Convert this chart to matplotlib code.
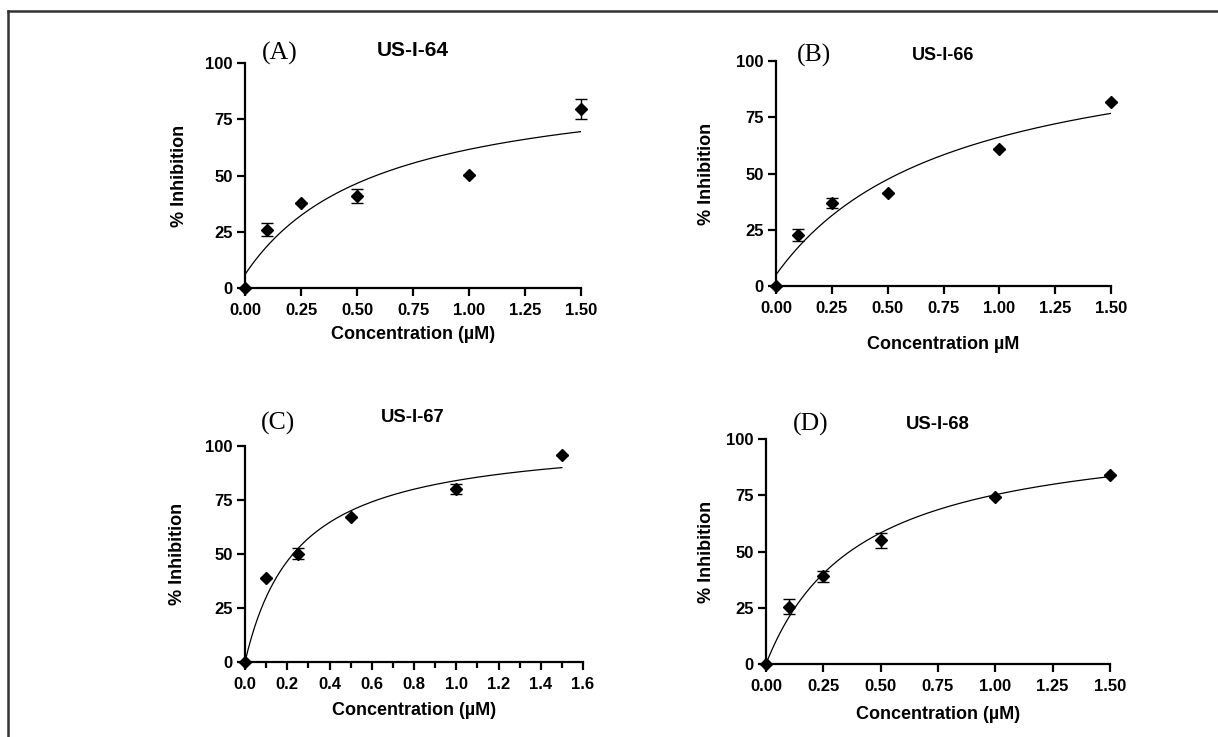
import matplotlib
matplotlib.use('Agg')
import matplotlib.pyplot as plt
from matplotlib.lines import Line2D
from matplotlib.ticker import MultipleLocator
import numpy as np

plt.rcParams['font.family'] = 'Liberation Sans'
plt.rcParams['font.weight'] = 'bold'

# -- datos ----------------------------------------------------------------
conc = [0, 0.1, 0.25, 0.5, 1.0, 1.5]

inh_64 = [0, 26.0, 37.7, 41.0, 50.4, 79.6]
err_64 = [0, 3.1, 0, 3.0, 0, 4.4]
inh_66 = [0, 22.8, 36.7, 41.3, 61.0, 81.6]
err_66 = [0, 2.6, 2.2, 0, 0, 0]
inh_67 = [0, 39.0, 50.2, 67.1, 80.1, 96.0]
err_67 = [0, 0, 2.7, 0, 2.3, 0]
inh_68 = [0, 25.4, 38.9, 54.9, 74.1, 84.0]
err_68 = [0, 3.3, 2.6, 3.5, 0, 0]

# parametros del ajuste hiperbolico: fondo, maximo, K
fit_64 = (6.0, 88.7, 0.595)
fit_66 = (5.0, 109.6, 0.792)
fit_67 = (0.0, 105.0, 0.25)
fit_68 = (0.0, 106.0, 0.409)

titles = ['US-I-64', 'US-I-66', 'US-I-67', 'US-I-68']
letters = ['(A)', '(B)', '(C)', '(D)']
xlabels = ['Concentration (µM)', 'Concentration µM',
           'Concentration (µM)', 'Concentration (µM)']

W, H = 1218, 737
fig = plt.figure(figsize=(W / 100, H / 100), dpi=100)

# borde de la figura (solo arriba e izquierda)
fig.add_artist(Line2D([8 / W, 8 / W], [0, 1 - 11 / H], color='#333333', lw=1.8))
fig.add_artist(Line2D([8 / W, 1], [1 - 11 / H, 1 - 11 / H], color='#333333', lw=1.8))

def px(l, t, r, b):
    return [l / W, 1 - b / H, (r - l) / W, (b - t) / H]

boxes = [px(245, 63, 581, 288), px(776, 61, 1111, 286),
         px(245, 446, 583, 662), px(766, 439, 1110, 664)]
ylab_x = [-0.17, -0.182, -0.175, -0.148]
xlab_y = [-0.169, -0.222, -0.185, -0.187]
title_pos = [(413, 50, 15), (943, 55, 13), (413, 418, 13.3), (938, 424, 13.3)]
letter_pos = [(280, 53), (814, 55), (278, 423), (811, 424)]

data = [(inh_64, err_64, fit_64), (inh_66, err_66, fit_66),
        (inh_67, err_67, fit_67), (inh_68, err_68, fit_68)]

for i, (yv, ev, fit) in enumerate(data):
    ax = fig.add_axes(boxes[i])
    b0, top, k = fit
    xx = np.linspace(0, 1.5, 200)
    ax.plot(xx, b0 + top * xx / (k + xx), color='black', lw=0.9)
    ax.errorbar(conc, yv, yerr=ev, fmt='D', color='black', ms=6.5,
                elinewidth=1, capsize=4, capthick=1, clip_on=False, zorder=5)

    if i == 2:
        ax.set_xlim(0, 1.6)
        ax.xaxis.set_major_locator(MultipleLocator(0.2))
        ax.xaxis.set_minor_locator(MultipleLocator(0.1))
        ax.xaxis.set_major_formatter(plt.FormatStrFormatter('%.1f'))
    else:
        ax.set_xlim(0, 1.5)
        ax.set_xticks([0, 0.25, 0.5, 0.75, 1.0, 1.25, 1.5])
        ax.xaxis.set_major_formatter(plt.FormatStrFormatter('%.2f'))
    ax.set_ylim(0, 100)
    ax.set_yticks([0, 25, 50, 75, 100])

    for s in ['top', 'right']:
        ax.spines[s].set_visible(False)
    for s in ['left', 'bottom']:
        ax.spines[s].set_linewidth(1.6)
    ax.tick_params(which='major', direction='out', length=6, width=1.6,
                   labelsize=12, pad=3)
    ax.tick_params(axis='x', which='major', pad=5)
    ax.tick_params(which='minor', direction='out', length=4, width=1.6)
    for lab in ax.get_xticklabels() + ax.get_yticklabels():
        lab.set_fontweight('bold')

    ax.set_ylabel('% Inhibition', fontsize=13, fontweight='bold')
    ax.yaxis.set_label_coords(ylab_x[i], 0.5)
    ax.set_xlabel(xlabels[i], fontsize=13, fontweight='bold')
    ax.xaxis.set_label_coords(0.5, xlab_y[i])

    tx, ty, fs = title_pos[i]
    fig.text(tx / W, 1 - ty / H, titles[i], fontsize=fs, fontweight='bold',
             ha='center', va='center')
    lx, ly = letter_pos[i]
    fig.text(lx / W, 1 - ly / H, letters[i], fontsize=18.5, family='Liberation Serif',
             fontweight='normal', ha='center', va='center')

fig.savefig('out.png', dpi=100)
